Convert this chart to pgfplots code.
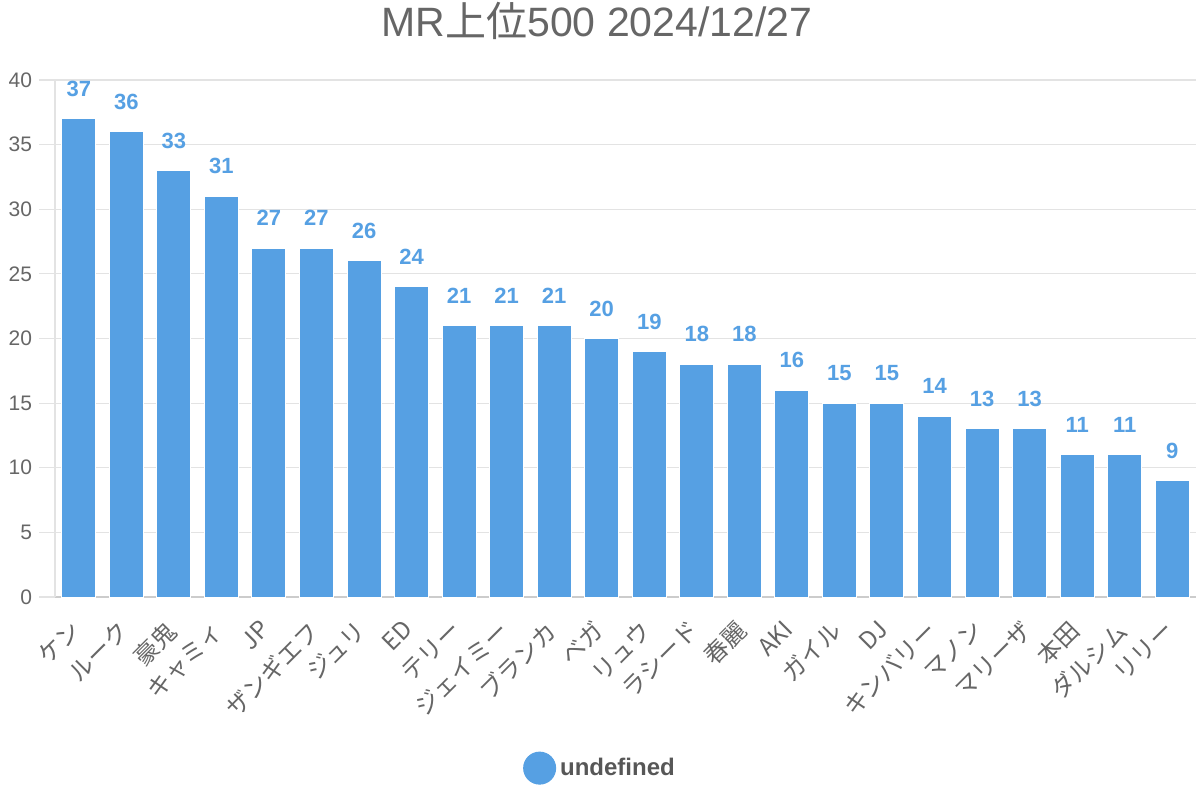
\documentclass[border=0pt]{standalone}
\usepackage{fontspec}
\setmainfont{Liberation Sans}
\newfontfamily\cjk{Noto Sans CJK JP}
\usepackage{pgfplots}
\usepackage{pgfplotstable}
\pgfplotsset{compat=1.18}
\definecolor{barc}{HTML}{56A0E3}
\definecolor{txt}{HTML}{666666}
\definecolor{gridc}{HTML}{E3E3E3}
\definecolor{axisc}{HTML}{CCCCCC}
\pgfplotstableread{
x y
0 37
1 36
2 33
3 31
4 27
5 27
6 26
7 24
8 21
9 21
10 21
11 20
12 19
13 18
14 18
15 16
16 15
17 15
18 14
19 13
20 13
21 11
22 11
23 9
}\data
\begin{document}
\begin{tikzpicture}
\begin{axis}[
  scale only axis, width=570.5pt, height=258.5pt,
  ybar, bar width=17pt,
  xmin=-0.5, xmax=23.5, ymin=0, ymax=40,
  xtick=data,
  xticklabels={ケン,ルーク,豪鬼,キャミィ,JP,ザンギエフ,ジュリ,ED,テリー,ジェイミー,ブランカ,ベガ,リュウ,ラシード,春麗,AKI,ガイル,DJ,キンバリー,マノン,マリーザ,本田,ダルシム,リリー},
  xticklabel style={font=\cjk\fontsize{12}{14}\selectfont, color=txt, rotate=45, anchor=north east, xshift=-2pt, yshift=5pt},
  ytick={0,5,...,40},
  yticklabel style={font=\fontsize{10.5}{12}\selectfont, color=txt},
  /pgf/number format/assume math mode=true,
  ymajorgrids, grid style={color=gridc, line width=0.6pt},
  axis x line*=bottom, axis y line*=left,
  x axis line style={color=axisc, line width=1pt, -},
  y axis line style={color=gridc, line width=0.6pt, -},
  xtick style={draw=none},
  ytick style={color=gridc, line width=0.6pt},
  tick align=outside, major tick length=8pt,
  nodes near coords,
  every node near coord/.append style={font=\bfseries\fontsize{11}{13}\selectfont, color=barc, anchor=center, yshift=15pt},
  title={MR{\cjk 上位}500 2024/12/27},
  title style={at={(0.475,1.092)}, anchor=center, font=\fontsize{20.5}{23}\selectfont, color=txt},
  legend style={at={(0.4785,-0.331)}, anchor=center, draw=none, fill=none, font=\bfseries\fontsize{12}{14}\selectfont, text=txt!85!black},
  legend image code/.code={\fill[barc] (0.25cm-2.5pt,0) circle (8pt);},
]
\addplot[fill=barc, draw=white, line width=0.5pt] table[x=x,y=y]{\data};
\addlegendentry{undefined}
\end{axis}
\pgfresetboundingbox
\path[use as bounding box] (-27.5pt,-101.5pt) rectangle (572.5pt,298.5pt);
\end{tikzpicture}
\end{document}
